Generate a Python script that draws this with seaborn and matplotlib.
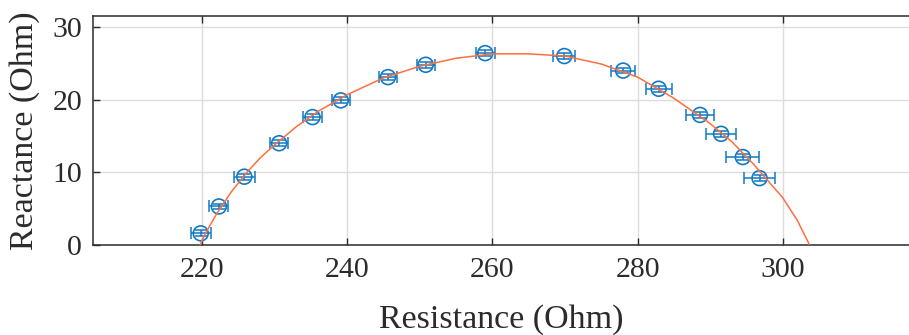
import numpy as np
import pandas as pd
import matplotlib
matplotlib.use("Agg")
import matplotlib.pyplot as plt
import seaborn as sns

# measured impedance points (Ohm)
resistance = [219.8, 222.3, 225.8, 230.6, 235.2, 239.1, 245.6, 250.8,
              259.0, 269.9, 278.0, 282.9, 288.6, 291.5, 294.5, 296.8]
reactance = [1.6, 5.3, 9.4, 14.0, 17.6, 19.9, 23.1, 24.8,
             26.4, 26.0, 24.0, 21.5, 17.9, 15.3, 12.1, 9.2]
resistance_err = [1.4, 1.3, 1.45, 1.2, 1.35, 1.25, 1.3, 1.25,
                  1.3, 1.5, 1.6, 1.8, 1.95, 2.1, 2.25, 2.2]
reactance_err = [0.4] * 16

# fitted arc
fit_r = [219.7, 220.5, 222, 224, 226, 228, 230, 233, 236, 240, 245, 250, 255,
         260, 265, 270, 275, 280, 285, 290, 293, 296, 298, 300, 302, 303.7]
fit_x = [0, 1.7, 4.3, 7.3, 9.8, 12.0, 13.8, 16.3, 18.4, 20.7, 23.0, 24.6, 25.7,
         26.3, 26.3, 26.0, 24.9, 23.1, 20.2, 16.7, 14.2, 11.1, 8.8, 6.5, 3.4, 0]

x_ticks = [220, 240, 260, 280, 300]
y_ticks = [0, 10, 20, 30]

sns.set_theme(style="ticks")
plt.rcParams['font.family'] = ['Liberation Serif', 'DejaVu Serif']
text_color = '#2b2b2b'
plt.rcParams['text.color'] = text_color
plt.rcParams['axes.labelcolor'] = text_color
plt.rcParams['xtick.color'] = text_color
plt.rcParams['ytick.color'] = text_color

fig = plt.figure(figsize=(9.09, 3.35), dpi=100)
ax = fig.add_axes([0.1027, 0.2687, 0.8973, 0.6833])

df_pts = pd.DataFrame({'R': resistance, 'X': reactance})
df_fit = pd.DataFrame({'R': fit_r, 'X': fit_x})

blue = '#1479c4'
orange = '#ff6e40'

ax.errorbar(resistance, reactance, xerr=resistance_err, yerr=reactance_err,
            fmt='none', ecolor=blue, elinewidth=1.1, capsize=4.3, capthick=1.1, zorder=3)
sns.scatterplot(data=df_pts, x='R', y='X', ax=ax, marker='o', s=115,
                facecolors='none', edgecolor=blue, linewidth=1.2, zorder=4)
sns.lineplot(data=df_fit, x='R', y='X', ax=ax, sort=False, color=orange,
             linewidth=1.1, zorder=5)

ax.set_xlim(205, 317.4)
ax.set_ylim(0, 31.5)
ax.set_xticks(x_ticks)
ax.set_yticks(y_ticks)

ax.grid(True, color='#dcdcdc', linewidth=1.0)
ax.set_axisbelow(True)

for side in ['left', 'bottom', 'top']:
    ax.spines[side].set_color(text_color)
    ax.spines[side].set_linewidth(1.1)
ax.spines['right'].set_visible(False)

ax.tick_params(axis='both', direction='in', length=5, width=1.0, labelsize=21.5)
ax.tick_params(axis='x', top=True, pad=9)
ax.tick_params(axis='y', right=False, pad=8)

ax.set_xlabel('Resistance (Ohm)', fontsize=24.5)
ax.set_ylabel('Reactance (Ohm)', fontsize=24.5)
ax.xaxis.set_label_coords(0.5, -0.26)
ax.yaxis.set_label_coords(-0.066, 0.5)

plt.savefig('out.png', dpi=100)
